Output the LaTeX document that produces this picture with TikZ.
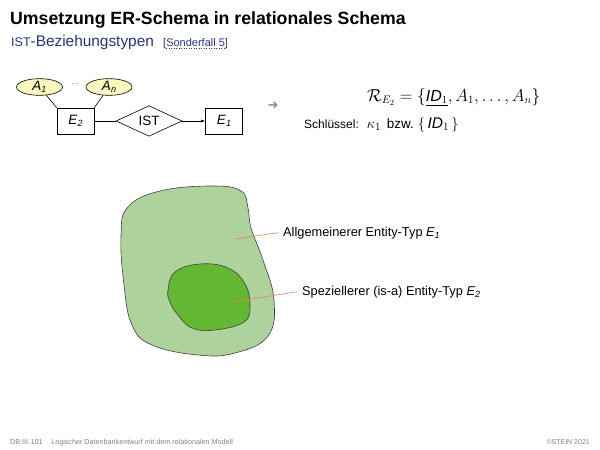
\documentclass[tikz,border=0pt]{standalone}
\usepackage[no-math]{fontspec}
\setmainfont{Liberation Sans}
\newfontfamily\symfont{DejaVu Sans}
\usetikzlibrary{shapes.geometric,arrows.meta}
\definecolor{titleblue}{RGB}{40,50,130}
\definecolor{outergreen}{RGB}{174,210,155}
\definecolor{innergreen}{RGB}{99,183,50}
\definecolor{leadercol}{RGB}{240,125,90}
\definecolor{attryellow}{RGB}{250,248,190}
\newcommand\mysub[1]{\raisebox{-0.35ex}{\fontsize{9}{10}\selectfont #1}}
\begin{document}
\begin{tikzpicture}[x=1pt,y=-1pt,
  txt/.style={anchor=base west, inner sep=0pt},
  entity/.style={draw, line width=0.6pt, minimum width=37pt, minimum height=26pt, inner sep=0pt, font=\itshape\fontsize{13.5}{15}\selectfont},
  attr/.style={ellipse, draw, line width=0.6pt, fill=attryellow, minimum width=46pt, minimum height=13pt, inner sep=0pt, font=\itshape\fontsize{13.5}{15}\selectfont},
  rel/.style={diamond, draw, line width=0.6pt, minimum width=66pt, minimum height=29pt, inner sep=0pt, font=\fontsize{13.5}{15}\selectfont},
  conn/.style={line width=0.6pt},
  blob/.style={draw=black!75, line width=0.6pt},
  leader/.style={draw=leadercol, line width=0.6pt},
  label/.style={anchor=base west, inner sep=0pt, inner xsep=5pt, font=\fontsize{12.8}{15}\selectfont}]
\useasboundingbox (0,0) rectangle (600,450);

% title
\node[txt] (title) at (10,24) {\fontsize{17.7}{20}\selectfont\bfseries Umsetzung ER-Schema in relationales Schema};
\node[txt, text=titleblue] (sub) at (11,46) {\fontsize{15.4}{18}\selectfont{\fontsize{12.5}{14}\selectfont IST}-Beziehungstypen};
\node[txt, text=titleblue] (ref) at (163,46) {\fontsize{11}{13}\selectfont [Sonderfall 5]};
\draw[titleblue, dotted, line width=0.5pt] ([xshift=3pt,yshift=-2pt]ref.base west) -- ([xshift=-3pt,yshift=-2pt]ref.base east);

% ER diagram
\node[attr] (A1) at (39.5,87) {A\mysub{1}};
\node[attr] (An) at (109,87) {A\mysub{n}};
\node[inner sep=0pt, text=black!60] (dots) at (75,84) {\fontsize{8}{9}\selectfont\dots};
\node[entity] (E2) at (75.5,121) {E\mysub{2}};
\node[rel] (ist) at (149,121) {IST};
\node[entity] (E1) at (224,121) {E\mysub{1}};
\draw[conn] (A1) -- (E2.north west);
\draw[conn] (An) -- (E2.north east);
\draw[conn] (E2) -- (ist);
\draw[conn, -{Latex[length=4pt,width=3pt]}] (ist) -- (E1);

\node[inner sep=0pt, text=black!45] (arrow) at (273,106) {\symfont\fontsize{13}{15}\selectfont ➜};

% relation schema
\node[txt] (schema) at (367,101) {\fontsize{16}{18}\selectfont $\mathcal{R}_{E_2}=\{\underline{\textit{ID}_1},A_1,\ldots,A_n\}$};
\node[txt] (key) at (304,128) {\fontsize{12}{14}\selectfont Schlüssel:\hspace{8pt}{\fontsize{15}{17}\selectfont$\kappa_1$}\hspace{6pt}{\fontsize{13.5}{15}\selectfont bzw.}\hspace{4pt}{\fontsize{15.5}{17}\selectfont$\{\,\textit{ID}_1\,\}$}};

% blobs
\draw[blob, fill=outergreen] plot[smooth cycle, tension=0.7] coordinates {
  (121,235) (128,207) (160,191) (212,186) (241,191) (248,208) (251,228)
  (263,260) (274,300) (268,336) (235,353) (198,355) (152,345) (132,325) (124,285)};
\draw[blob, fill=innergreen] plot[smooth cycle, tension=0.7] coordinates {
  (168,290) (175,272) (200,264) (228,268) (245,284) (250,306) (244,322)
  (215,330) (192,328) (178,315) (170,302)};

\coordinate (pA) at (235,239);
\coordinate (pB) at (233,302);
\node[label] (lblA) at (278,236) {Allgemeinerer Entity-Typ \textit{E\mysub{1}}};
\node[label] (lblB) at (297,295) {Speziellerer (is-a) Entity-Typ \textit{E\mysub{2}}};
\draw[leader] (pA) -- (lblA.west);
\draw[leader] (pB) -- (lblB.west);

% footer
\node[txt, text=black!50] (foot) at (10,444) {\fontsize{7.2}{8}\selectfont DB:III-101\hspace{1.2em}Logischer Datenbankentwurf mit dem relationalen Modell};
\node[anchor=base east, inner sep=0pt, text=black!50] (copy) at (590,444) {\fontsize{7}{8}\selectfont ©STEIN 2021};
\end{tikzpicture}
\end{document}
